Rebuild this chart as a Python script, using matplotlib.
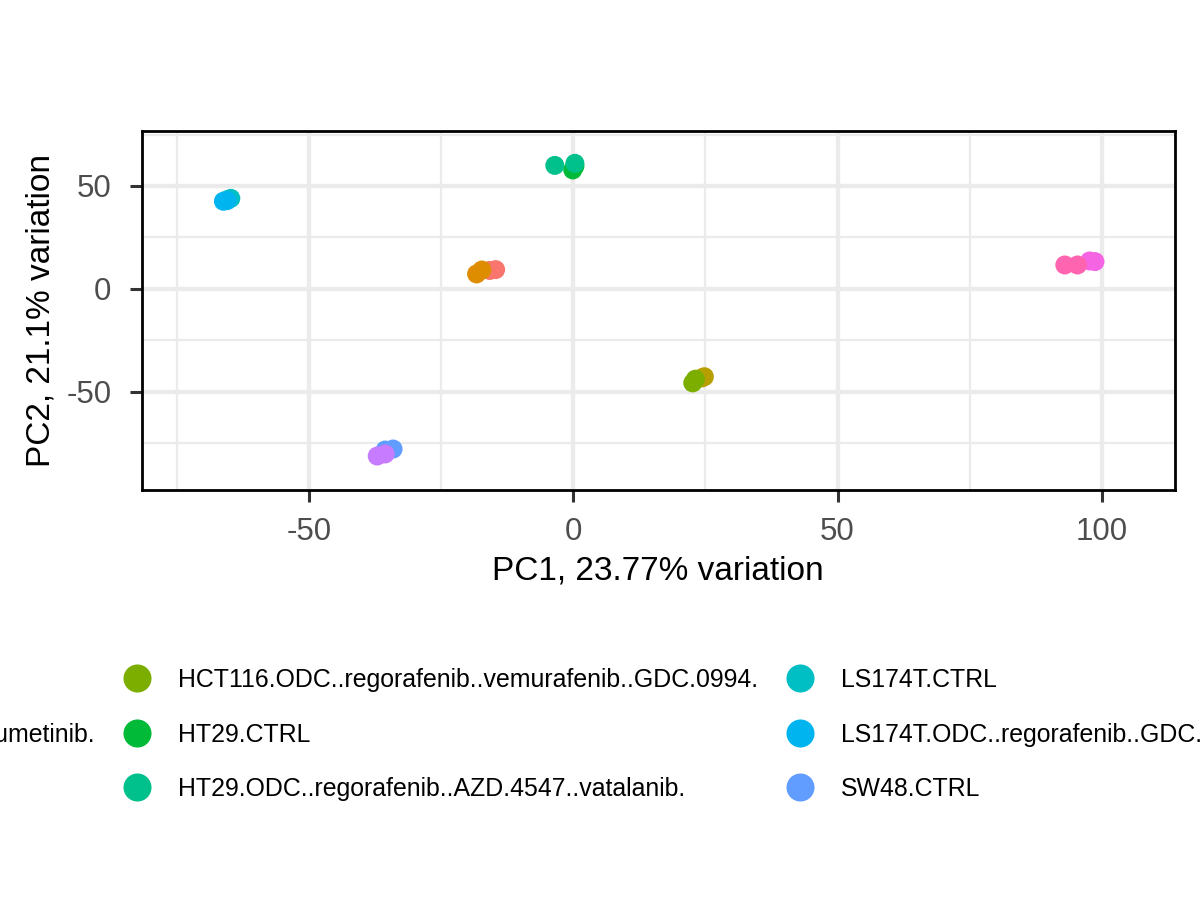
import matplotlib
matplotlib.use("Agg")
import matplotlib.pyplot as plt
from matplotlib.ticker import MultipleLocator
from matplotlib.lines import Line2D

plt.rcParams['font.family'] = ['Liberation Sans', 'DejaVu Sans']
plt.rcParams['axes.unicode_minus'] = False

# ---- data ----
groups = [
    "DLD1.CTRL",
    "DLD1.ODC..regorafenib..selumetinib.",
    "HCT116.CTRL",
    "HCT116.ODC..regorafenib..vemurafenib..GDC.0994.",
    "HT29.CTRL",
    "HT29.ODC..regorafenib..AZD.4547..vatalanib.",
    "LS174T.CTRL",
    "LS174T.ODC..regorafenib..GDC.0994..trametinib.",
    "SW48.CTRL",
    "SW48.ODC..regorafenib..selumetinib..vatalanib.",
    "SW620.CTRL",
    "SW620.ODC..regorafenib..vemurafenib.",
]
colors = ["#F8766D", "#DE8C00", "#B79F00", "#7CAE00", "#00BA38", "#00C08B",
          "#00BFC4", "#00B4F0", "#619CFF", "#C77CFF", "#F564E3", "#FF64B0"]

sample_group = [0, 0, 1, 1, 2, 2, 3, 3, 4, 4, 5, 5,
                6, 6, 7, 7, 8, 8, 9, 9, 10, 10, 11, 11]
pc1 = [-14.7, -15.8, -18.3, -17.3, 24.8, 24.3, 22.6, 23.1, -0.1, 0.3, -3.5, 0.3,
       -64.8, -65.5, -66.2, -65.5, -34.1, -35.6, -37.1, -35.6, 97.7, 98.7, 93.0, 95.4]
pc2 = [9.4, 9.0, 7.3, 9.2, -42.6, -43.2, -45.6, -43.8, 57.8, 59.6, 60.0, 61.0,
       44.0, 43.3, 42.6, 42.9, -77.7, -78.2, -81.1, -80.1, 13.6, 13.3, 11.65, 11.65]

xlabel = "PC1, 23.77% variation"
ylabel = "PC2, 21.1% variation"
xticks = [-50, 0, 50, 100]
yticks = [-50, 0, 50]

W, H = 1200, 900
fig = plt.figure(figsize=(12, 9), dpi=100)
ax = fig.add_axes([141.5 / W, 1 - 490 / H, 1033 / W, 359 / H])

for g in range(len(groups)):
    xs = [pc1[i] for i in range(len(pc1)) if sample_group[i] == g]
    ys = [pc2[i] for i in range(len(pc2)) if sample_group[i] == g]
    ax.scatter(xs, ys, s=187, color=colors[g], edgecolors='none', zorder=3,
               label=groups[g])

ax.set_xlim(-81.7, 113.75)
ax.set_ylim(-97.6, 76.7)
ax.set_xticks(xticks)
ax.set_yticks(yticks)
ax.xaxis.set_minor_locator(MultipleLocator(25))
ax.yaxis.set_minor_locator(MultipleLocator(25))
ax.set_axisbelow(True)
ax.grid(which='major', color='#EBEBEB', linewidth=3.1)
ax.grid(which='minor', color='#EBEBEB', linewidth=1.6)
ax.tick_params(which='major', length=8.6, width=2.2, color='#333333',
               labelcolor='#4D4D4D', labelsize=22.5)
ax.tick_params(axis='x', which='major', pad=11)
ax.tick_params(axis='y', which='major', pad=13)
ax.tick_params(which='minor', length=0)
for sp in ax.spines.values():
    sp.set_linewidth(2.0)
    sp.set_color('black')

ax.set_xlabel(xlabel, fontsize=24, color='black')
ax.set_ylabel(ylabel, fontsize=24, color='black')
ax.xaxis.set_label_coords(0.5, (490 - 556) / 359)
ax.yaxis.set_label_coords((57 - 141.5) / 1033, 0.5)

# ---- legend (4 columns x 3 rows, column-major, centred, clipped by figure) ----
fig.canvas.draw()
renderer = fig.canvas.get_renderer()
leg_fs = 17.9
row_y = [677.7, 732.7, 786.7]
nrow = 3
ncol = 4
cols = [list(range(c * nrow, min((c + 1) * nrow, len(groups)))) for c in range(ncol)]

def text_w(s):
    t = fig.text(0, 0, s, fontsize=leg_fs)
    w = t.get_window_extent(renderer).width
    t.remove()
    return w

wmax = [max(text_w(groups[i]) for i in col) for col in cols]
gap_key_text = 41.0
gap_text_key = 41.7
key_x = [0.0] * ncol
key_x[1] = 136.7
key_x[0] = key_x[1] - gap_text_key - wmax[0] - gap_key_text
for c in range(2, ncol):
    key_x[c] = key_x[c - 1] + gap_key_text + wmax[c - 1] + gap_text_key

for c, col in enumerate(cols):
    for r, gi in enumerate(col):
        yk = row_y[r]
        fig.add_artist(Line2D([key_x[c] / W], [1 - yk / H], transform=fig.transFigure,
                              marker='o', markersize=20.2, color=colors[gi],
                              markeredgewidth=0, linestyle='none'))
        fig.text((key_x[c] + gap_key_text) / W, 1 - (yk + 9.0) / H, groups[gi],
                 fontsize=leg_fs, ha='left', va='baseline', color='black')

fig.savefig("out.png", dpi=100)
